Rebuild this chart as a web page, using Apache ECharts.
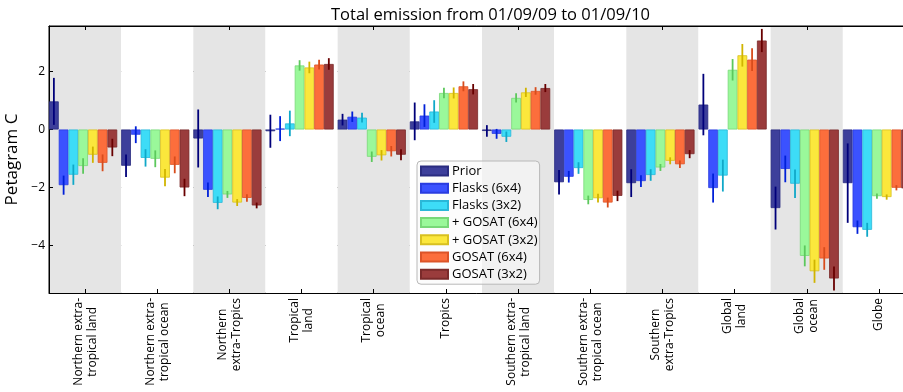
<!DOCTYPE html>
<html>
<head>
<meta charset="utf-8">
<script src="https://cdn.jsdelivr.net/npm/echarts@6/dist/echarts.min.js"></script>
<style>html,body{margin:0;padding:0;background:#fff;}#c{width:903px;height:392px;}</style>
</head>
<body>
<div id="c"></div>
<script>
const categories = ['Northern extra-\ntropical land', 'Northern extra-\ntropical ocean', 'Northern\nextra-Tropics', 'Tropical\nland', 'Tropical\nocean', 'Tropics', 'Southern extra-\ntropical land', 'Southern extra-\ntropical ocean', 'Southern\nextra-Tropics', 'Global\nland', 'Global\nocean', 'Globe'];
const seriesNames = ['Prior', 'Flasks (6x4)', 'Flasks (3x2)', '+ GOSAT (6x4)', '+ GOSAT (3x2)', 'GOSAT (6x4)', 'GOSAT (3x2)'];
const yTicks = [-4, -2, 0, 2];

const prior          = [0.97, -1.25, -0.31, -0.06, 0.34, 0.28, -0.05, -1.82, -1.85, 0.86, -2.71, -1.85];
const priorErr       = [0.81, 0.39, 1.00, 0.57, 0.20, 0.65, 0.20, 0.42, 0.48, 1.06, 0.74, 1.37];
const flasks64       = [-1.92, -0.18, -2.08, 0.03, 0.44, 0.48, -0.15, -1.63, -1.78, -2.02, -1.36, -3.37];
const flasks64Err    = [0.33, 0.29, 0.25, 0.43, 0.18, 0.39, 0.17, 0.20, 0.20, 0.50, 0.46, 0.23];
const flasks32       = [-1.56, -0.98, -2.53, 0.21, 0.41, 0.62, -0.25, -1.33, -1.57, -1.59, -1.87, -3.46];
const flasks32Err    = [0.35, 0.30, 0.22, 0.44, 0.17, 0.39, 0.18, 0.20, 0.20, 0.55, 0.49, 0.24];
const plusGosat64    = [-1.26, -1.01, -2.24, 2.21, -0.94, 1.26, 1.09, -2.43, -1.31, 2.06, -4.36, -2.30];
const plusGosat64Err = [0.27, 0.29, 0.12, 0.18, 0.18, 0.18, 0.16, 0.15, 0.12, 0.37, 0.36, 0.09];
const plusGosat32    = [-0.87, -1.66, -2.52, 2.14, -0.89, 1.26, 1.28, -2.37, -1.08, 2.56, -4.89, -2.33];
const plusGosat32Err = [0.28, 0.30, 0.12, 0.20, 0.18, 0.19, 0.16, 0.15, 0.12, 0.39, 0.40, 0.09];
const gosat64        = [-1.15, -1.22, -2.36, 2.24, -0.75, 1.49, 1.33, -2.52, -1.20, 2.41, -4.45, -2.01];
const gosat64Err     = [0.29, 0.29, 0.13, 0.17, 0.18, 0.17, 0.13, 0.17, 0.13, 0.39, 0.39, 0.09];
const gosat32        = [-0.62, -2.00, -2.62, 2.26, -0.87, 1.39, 1.43, -2.29, -0.85, 3.07, -5.14, -2.03];
const gosat32Err     = [0.30, 0.30, 0.10, 0.20, 0.19, 0.18, 0.14, 0.18, 0.14, 0.40, 0.41, 0.10];

const values = [prior, flasks64, flasks32, plusGosat64, plusGosat32, gosat64, gosat32];
const errors = [priorErr, flasks64Err, flasks32Err, plusGosat64Err, plusGosat32Err, gosat64Err, gosat32Err];

const barColors = ['#3d3f9b', '#3b52ff', '#3ddcf7', '#9af89a', '#fbe73c', '#fc6e3c', '#9a3c3c'];
const edgeColors = ['#2a2c80', '#2a3ce0', '#2ab8d8', '#78d878', '#d8c020', '#dc5428', '#7a2a2a'];
const errColors = ['#00007a', '#0020d8', '#10a8c8', '#5cc85c', '#d0b400', '#d84c1c', '#680000'];

const font = 'Open Sans';
const BW = 0.135;

const series = [];
values.forEach((vals, j) => {
  series.push({
    name: seriesNames[j], type: 'bar', data: vals, barWidth: (BW * 100) + '%', barGap: 0,
    itemStyle: { color: barColors[j], borderColor: edgeColors[j], borderWidth: 0.8 },
    z: 2
  });
});
series.push({ name: '_spacer', type: 'bar', data: categories.map(() => null), barWidth: ((1 - 7 * BW) * 100) + '%', barGap: 0 });
values.forEach((vals, j) => {
  series.push({
    name: seriesNames[j] + ' err', type: 'custom', z: 5,
    encode: { x: 0, y: 1 },
    data: vals.map((v, i) => [i, v, errors[j][i]]),
    renderItem: function (params, api) {
      const c = api.value(0), v = api.value(1), e = api.value(2);
      const bandW = api.size([1, 0])[0];
      const x = api.coord([c, 0])[0] - bandW / 2 + (j + 0.5) * bandW * BW;
      const y1 = api.coord([c, v + e])[1];
      const y2 = api.coord([c, v - e])[1];
      return { type: 'line', shape: { x1: x, y1: y1, x2: x, y2: y2 }, style: { stroke: errColors[j], lineWidth: 1.8 } };
    }
  });
});

const chart = echarts.init(document.getElementById('c'), null, { renderer: 'canvas' });
chart.setOption({
  animation: false,
  backgroundColor: '#ffffff',
  title: {
    text: 'Total emission from 01/09/09 to 01/09/10', left: 326, top: 2,
    textStyle: { fontFamily: font, fontSize: 16.5, fontWeight: 'normal', color: '#000' }
  },
  legend: {
    data: seriesNames, orient: 'vertical', left: 417, top: 161,
    itemWidth: 27, itemHeight: 9, itemGap: 3.2, icon: 'rect',
    padding: [3, 2, 3, 3],
    backgroundColor: 'rgba(250,250,250,0.6)', borderColor: '#b8b8b8', borderWidth: 1, borderRadius: 4,
    textStyle: { fontFamily: font, fontSize: 13, color: '#000', lineHeight: 14, padding: [0, 0, 0, -1] }
  },
  grid: { left: 49, right: -12, top: 26, bottom: 99, show: true, borderColor: '#000', borderWidth: 1, backgroundColor: 'transparent', containLabel: false, outerBoundsMode: 'none' },
  xAxis: [{
    type: 'category', data: categories, position: 'bottom',
    axisLine: { show: true, onZero: false, lineStyle: { color: '#000', width: 1 } },
    axisTick: { show: true, inside: true, alignWithLabel: true, length: 4, lineStyle: { color: '#000' } },
    splitArea: { show: true, areaStyle: { color: ['#e5e5e5', '#ffffff'] } },
    splitLine: { show: false },
    axisLabel: {
      rotate: 90, margin: 5, interval: 0,
      fontFamily: font, fontSize: 12, color: '#000',
      formatter: v => v.split('\n').map(s => '{c|' + s + '}').join('\n'),
      rich: { c: { align: 'center', fontFamily: font, fontSize: 12, color: '#000', lineHeight: 14 } }
    }
  }, {
    type: 'category', data: categories, position: 'top', z: 10,
    axisLine: { show: true, onZero: false, lineStyle: { color: '#000', width: 1.2 } },
    axisTick: { show: true, inside: true, alignWithLabel: true, length: 4, lineStyle: { color: '#000' } },
    axisLabel: { show: false }, splitArea: { show: false }, splitLine: { show: false }
  }],
  yAxis: {
    type: 'value', min: -5.64, max: 3.57,
    name: 'Petagram C', nameLocation: 'middle', nameGap: 21, nameRotate: 90,
    nameTextStyle: { fontFamily: font, fontSize: 17, color: '#000' },
    axisLine: { show: true, onZero: false, lineStyle: { color: '#000', width: 1 } },
    axisTick: { show: true, inside: true, length: 4, customValues: yTicks, lineStyle: { color: '#000' } },
    axisLabel: {
      customValues: yTicks, margin: 4, fontFamily: font, fontSize: 12, color: '#000',
      formatter: v => (v < 0 ? '\u2212' + Math.abs(v) : String(v))
    },
    splitLine: { show: true, lineStyle: { color: '#555', width: 1, type: [1, 3] } }
  },
  series: series
});
</script>
</body>
</html>
